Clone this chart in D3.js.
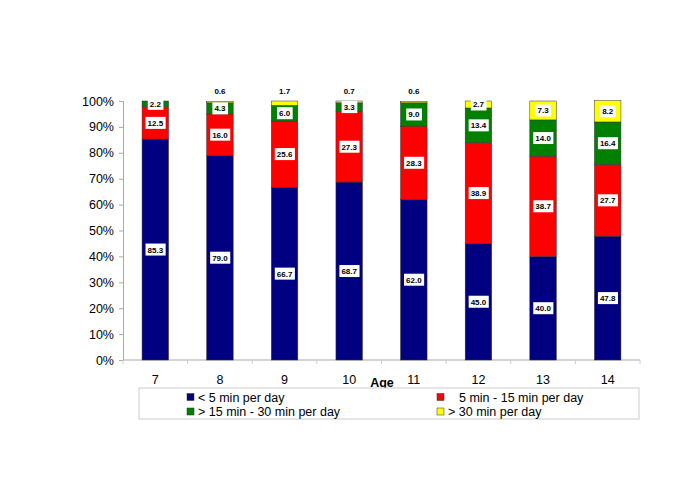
<!DOCTYPE html>
<html><head><meta charset="utf-8">
<script src="https://cdn.jsdelivr.net/npm/d3@7/dist/d3.min.js"></script>
<style>body{margin:0;background:#fff;}svg{font-family:"Liberation Sans",Arial,sans-serif;}</style>
</head><body><svg id="c" width="685" height="483"></svg>
<script>
const ages = ["7","8","9","10","11","12","13","14"];
const seriesNames = ["< 5 min per day","5 min - 15 min per day","> 15 min - 30 min per day","> 30 min per day"];
const under5 = [85.3,79.0,66.7,68.7,62.0,45.0,40.0,47.8];
const min5to15 = [12.5,16.0,25.6,27.3,28.3,38.9,38.7,27.7];
const min15to30 = [2.2,4.3,6.0,3.3,9.0,13.4,14.0,16.4];
const over30 = [0,0.6,1.7,0.7,0.6,2.7,7.3,8.2];
const yTicks = [0,10,20,30,40,50,60,70,80,90,100];
const colors = ["#000080","#FF0000","#008000","#FFFF00"];

const svg = d3.select("#c");
const L=123, R=640, T=101, B=360;
const x = d3.scaleBand().domain(ages).range([L,R]).paddingInner(0.59).paddingOuter(0.295);
const xb = d3.scaleBand().domain(ages).range([L,R]);
const y = d3.scaleLinear().domain([0,100]).range([B,T]);

const rows = ages.map((a,i)=>({age:a, s0:under5[i], s1:min5to15[i], s2:min15to30[i], s3:over30[i]}));
const stack = d3.stack().keys(["s0","s1","s2","s3"])(rows);

// axes
const gy = svg.append("g").attr("transform",`translate(${L},0)`)
  .call(d3.axisLeft(y).tickValues(yTicks).tickFormat(d=>d+"%").tickSize(4).tickPadding(5));
gy.select(".domain").attr("stroke","#aaa");
gy.selectAll(".tick line").attr("stroke","#aaa");
gy.selectAll("text").attr("font-size","12.5px").attr("fill","#000").attr("font-family","Liberation Sans, Arial");

const gx = svg.append("g").attr("transform",`translate(0,${B})`);
gx.append("line").attr("x1",L).attr("x2",R).attr("stroke","#aaa");
gx.selectAll("line.t").data(ages.concat(["end"])).enter().append("line")
  .attr("x1",(d,i)=>L+i*xb.step()).attr("x2",(d,i)=>L+i*xb.step()).attr("y1",0).attr("y2",4).attr("stroke","#ccc");
gx.selectAll("text").data(ages).enter().append("text")
  .attr("x",d=>xb(d)+xb.bandwidth()/2).attr("y",23.5).attr("text-anchor","middle")
  .attr("font-size","12.5px").text(d=>d);
svg.append("text").attr("x",382).attr("y",387).attr("text-anchor","middle")
  .attr("font-size","12.5px").attr("font-weight","bold").text("Age");

// bars
stack.forEach((ser,k)=>{
  svg.append("g").selectAll("rect").data(ser).enter().append("rect")
    .attr("x",d=>x(d.data.age)).attr("width",x.bandwidth())
    .attr("y",d=>y(d[1])).attr("height",d=>Math.max(0,y(d[0])-y(d[1])))
    .attr("fill",colors[k]).attr("stroke","#333").attr("stroke-width",0.5);
});

// labels
stack.forEach((ser,k)=>{
  ser.forEach(d=>{
    const val = d.data["s"+k];
    if(!val) return;
    const cx = x(d.data.age)+x.bandwidth()/2;
    const txt = val.toFixed(1);
    if(k===3 && val<2){
      svg.append("text").attr("x",cx).attr("y",94).attr("text-anchor","middle")
        .attr("font-size","8px").attr("font-weight","bold").text(txt);
      return;
    }
    const cy = y((d[0]+d[1])/2);
    const g = svg.append("g");
    const t = g.append("text").attr("x",cx).attr("y",cy+3).attr("text-anchor","middle")
      .attr("font-size","8px").attr("font-weight","bold").text(txt);
    const bb = t.node().getBBox();
    g.insert("rect","text").attr("x",bb.x-2).attr("y",cy-6).attr("width",bb.width+4).attr("height",12).attr("fill","#fff");
  });
});

// legend
const lg = svg.append("g");
lg.append("rect").attr("x",139).attr("y",388).attr("width",500).attr("height",31).attr("fill","#fff").attr("stroke","#ccc");
const leg = [
  {i:0, sx:187, tx:198, cy:397},
  {i:1, sx:437, tx:459, cy:397},
  {i:2, sx:187, tx:198, cy:411.5},
  {i:3, sx:437, tx:448, cy:411.5}
];
leg.forEach(o=>{
  lg.append("rect").attr("x",o.sx).attr("y",o.cy-3.5).attr("width",7).attr("height",7)
    .attr("fill",colors[o.i]).attr("stroke","#333").attr("stroke-width",0.5);
  lg.append("text").attr("x",o.tx).attr("y",o.cy+4.5).attr("font-size","12.5px").text(seriesNames[o.i]);
});
</script></body></html>
